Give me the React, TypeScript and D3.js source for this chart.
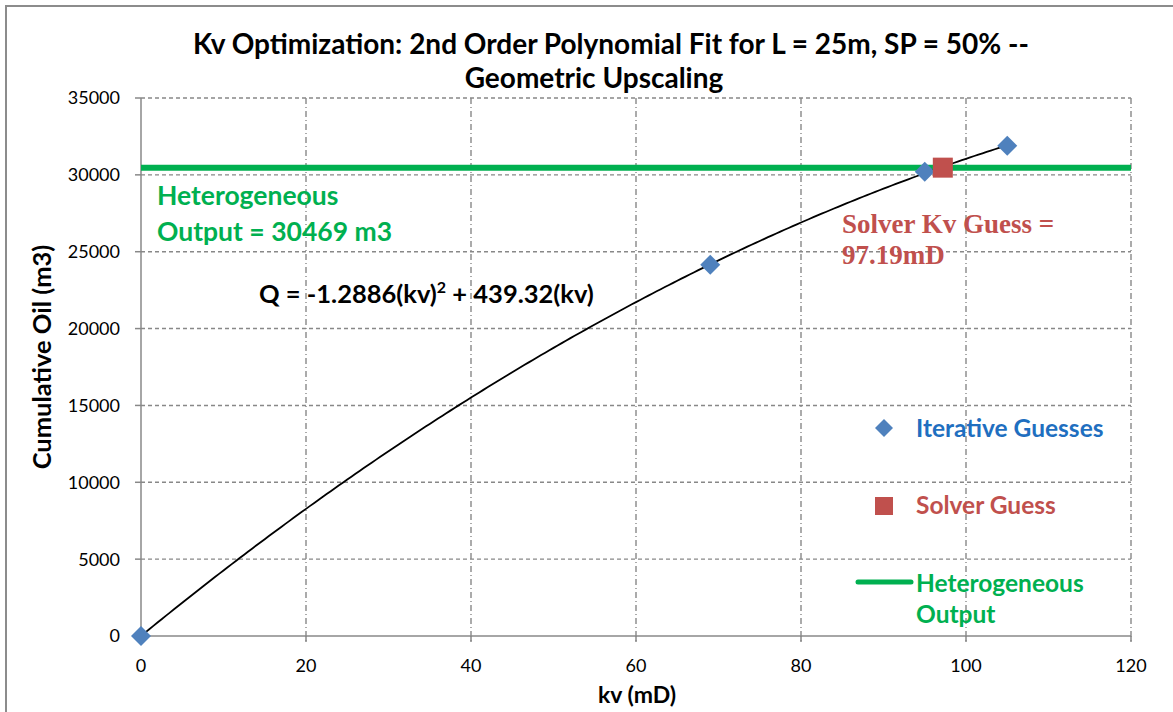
import React from "react";
import * as d3 from "d3";

const xTicks = [0, 20, 40, 60, 80, 100, 120];
const yTicks = [0, 5000, 10000, 15000, 20000, 25000, 30000, 35000];
const iterKv = [0, 69, 95, 105];
const iterQ = [0, 24150, 30200, 31900];
const solverKv = [97.19];
const solverQ = [30469];
const heteroOutput = 30469;
const fitA = -1.2886;
const fitB = 439.32;
const fitRange = [0, 105];

const W = 1173;
const H = 712;
const M = { left: 141, right: 1131, top: 98, bottom: 636 };
const FONT = "Lato, 'Open Sans', sans-serif";
const SERIF = "'Liberation Serif', 'Times New Roman', serif";

export default function App() {
  const x = d3.scaleLinear().domain([0, 120]).range([M.left, M.right]);
  const y = d3.scaleLinear().domain([0, 35000]).range([M.bottom, M.top]);
  const grid = "#888888";

  const fitPts: [number, number][] = d3
    .range(fitRange[0], fitRange[1] + 0.001, 0.5)
    .map((k) => [k, fitA * k * k + fitB * k]);
  const line = d3
    .line<[number, number]>()
    .x((d) => x(d[0]))
    .y((d) => y(d[1]));

  const diamond = (cx: number, cy: number, r: number) =>
    `M${cx},${cy - r}L${cx + r},${cy}L${cx},${cy + r}L${cx - r},${cy}Z`;

  return (
    <svg
      width={W}
      height={H}
      style={{ position: "absolute", left: 0, top: 0, background: "#fff" }}
      fontFamily={FONT}
    >
      <rect x={0} y={0} width={W} height={H} fill="#fff" />
      <path d={`M6,${H}V6H${W}`} fill="none" stroke="#8c8c8c" strokeWidth={2} />

      {/* grid */}
      {yTicks.slice(1).map((t) => (
        <line key={"hy" + t} x1={M.left} x2={M.right} y1={y(t)} y2={y(t)} stroke={grid} strokeWidth={1.4} strokeDasharray="4,3" />
      ))}
      {xTicks.slice(1).map((t) => (
        <line key={"vx" + t} x1={x(t)} x2={x(t)} y1={M.top} y2={M.bottom + 6} stroke={grid} strokeWidth={1.4} strokeDasharray="6,3,1,3" />
      ))}
      {/* axes */}
      <line x1={M.left} x2={M.left} y1={M.top} y2={M.bottom} stroke={grid} strokeWidth={1.5} />
      <line x1={M.left} x2={M.right} y1={M.bottom} y2={M.bottom} stroke={grid} strokeWidth={1.5} />
      {yTicks.map((t) => (
        <line key={"ty" + t} x1={M.left - 6} x2={M.left} y1={y(t)} y2={y(t)} stroke={grid} strokeWidth={1.5} />
      ))}
      {xTicks.map((t) => (
        <line key={"tx" + t} x1={x(t)} x2={x(t)} y1={M.bottom} y2={M.bottom + 6} stroke={grid} strokeWidth={1.5} />
      ))}

      {/* tick labels */}
      {yTicks.map((t) => (
        <text key={"ly" + t} x={120} y={y(t)} dy="0.36em" textAnchor="end" fontSize={18} fill="#000">
          {t}
        </text>
      ))}
      {xTicks.map((t) => (
        <text key={"lx" + t} x={x(t)} y={672} textAnchor="middle" fontSize={18} fill="#000">
          {t}
        </text>
      ))}

      {/* axis titles */}
      <text x={637} y={703} textAnchor="middle" fontSize={23} fontWeight="bold">kv (mD)</text>
      <text transform={`translate(51,357) rotate(-90)`} textAnchor="middle" fontSize={25.5} fontWeight="bold">
        Cumulative Oil (m3)
      </text>

      {/* title */}
      <text x={611} y={54} textAnchor="middle" fontSize={28} fontWeight="bold">
        Kv Optimization: 2nd Order Polynomial Fit for L = 25m, SP = 50% --
      </text>
      <text x={594} y={88} textAnchor="middle" fontSize={28} fontWeight="bold">
        Geometric Upscaling
      </text>

      {/* heterogeneous line */}
      <line x1={M.left} x2={M.right} y1={y(heteroOutput)} y2={y(heteroOutput)} stroke="#00b050" strokeWidth={6} />

      {/* fit curve */}
      <path d={line(fitPts) || ""} fill="none" stroke="#000" strokeWidth={1.8} />

      {/* iterative guesses */}
      {iterKv.map((k, i) => (
        <path key={"d" + i} d={diamond(x(k), y(iterQ[i]), 10)} fill="#4f81bd" />
      ))}
      {/* solver guess */}
      {solverKv.map((k, i) => (
        <rect key={"s" + i} x={x(k) - 10} y={y(solverQ[i]) - 10} width={20} height={20} fill="#c0504d" />
      ))}

      {/* annotations */}
      <text x={157} y={205} fontSize={26.5} fontWeight="bold" fill="#00b050">Heterogeneous</text>
      <text x={157} y={241} fontSize={26.5} fontWeight="bold" fill="#00b050">Output = 30469 m3</text>
      <text x={259} y={303} fontSize={25.5} fontWeight="bold" fill="#000">
        Q = -1.2886(kv)<tspan dy={-10} fontSize={16}>2</tspan>
        <tspan dy={10}> + 439.32(kv)</tspan>
      </text>
      <text x={842} y={233} fontSize={27} fontWeight="bold" fill="#c0504d" fontFamily={SERIF}>
        Solver Kv Guess =
      </text>
      <text x={842} y={264} fontSize={27} fontWeight="bold" fill="#c0504d" fontFamily={SERIF}>
        97.19mD
      </text>

      {/* legend */}
      <path d={diamond(884, 428, 9)} fill="#4f81bd" />
      <text x={916} y={437} fontSize={24.5} fontWeight="bold" fill="#1f6fc0">Iterative Guesses</text>
      <rect x={875} y={497} width={18} height={18} fill="#c0504d" />
      <text x={916} y={514} fontSize={24.5} fontWeight="bold" fill="#c0504d">Solver Guess</text>
      <line x1={858} x2={911} y1={582} y2={582} stroke="#00b050" strokeWidth={5} strokeLinecap="round" />
      <text x={916} y={592} fontSize={24.5} fontWeight="bold" fill="#00b050">Heterogeneous</text>
      <text x={916} y={623} fontSize={24.5} fontWeight="bold" fill="#00b050">Output</text>
    </svg>
  );
}
